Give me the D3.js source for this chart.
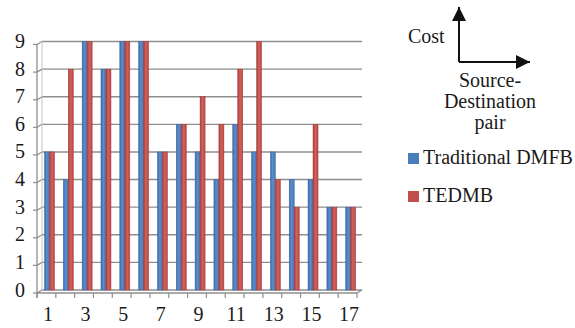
<!DOCTYPE html>
<html>
<head>
<meta charset="utf-8">
<script src="https://cdn.jsdelivr.net/npm/d3@7/dist/d3.min.js"></script>
<style>
  body { margin: 0; background: #fff; }
</style>
</head>
<body>
<svg id="chart" width="575" height="328" font-family="'Liberation Serif', 'DejaVu Serif', serif"></svg>
<script>
// Cost per source-destination pair
const categories = [1, 2, 3, 4, 5, 6, 7, 8, 9, 10, 11, 12, 13, 14, 15, 16, 17];
const traditionalDMFB = [5, 4, 9, 8, 9, 9, 5, 6, 5, 4, 6, 5, 5, 4, 4, 3, 3];
const tedmb = [5, 8, 9, 8, 9, 9, 5, 6, 7, 6, 8, 9, 4, 3, 6, 3, 3];
const seriesNames = ["Traditional DMFB", "TEDMB"];
const yTicks = [0, 1, 2, 3, 4, 5, 6, 7, 8, 9];
const xTickLabels = [1, 3, 5, 7, 9, 11, 13, 15, 17];

const colors = { "Traditional DMFB": ["#3a69a6", "#5b8dcc", "#4676b3"],
                 "TEDMB": ["#a63b38", "#d2625e", "#b94845"] };
const textColor = "#1a1a1a";
const serif = "'Liberation Serif', 'DejaVu Serif', serif";
const fontSize = 20;

const svg = d3.select("#chart");
const defs = svg.append("defs");
seriesNames.forEach((s, i) => {
  const g = defs.append("linearGradient").attr("id", "grad" + i)
    .attr("x1", "0%").attr("x2", "100%").attr("y1", "0%").attr("y2", "0%");
  g.append("stop").attr("offset", "0%").attr("stop-color", colors[s][0]);
  g.append("stop").attr("offset", "45%").attr("stop-color", colors[s][1]);
  g.append("stop").attr("offset", "100%").attr("stop-color", colors[s][2]);
});

// front plane of the plot and the depth offset to the back wall
const plotLeft = 37, plotRight = 357, plotBottom = 293, plotTop = 44.5;
const dx = 5, dy = -3;

const x = d3.scaleBand().domain(categories).range([plotLeft, plotRight]).padding(0);
const y = d3.scaleLinear().domain([0, 9]).range([plotBottom, plotTop]);
const sub = d3.scaleBand().domain(seriesNames).range([7.5, 17.5]).padding(0);

const gridColor = "#8e8e8e";

// back-wall gridlines with side-wall segments
const grid = svg.append("g");
yTicks.forEach(t => {
  grid.append("line").attr("x1", plotLeft + dx).attr("x2", plotRight + dx)
    .attr("y1", y(t) + dy).attr("y2", y(t) + dy)
    .attr("stroke", gridColor).attr("stroke-width", 1.4);
  grid.append("line").attr("x1", plotLeft).attr("x2", plotLeft + dx)
    .attr("y1", y(t)).attr("y2", y(t) + dy)
    .attr("stroke", gridColor).attr("stroke-width", 1.2);
  grid.append("line").attr("x1", plotLeft - 4).attr("x2", plotLeft)
    .attr("y1", y(t)).attr("y2", y(t))
    .attr("stroke", gridColor).attr("stroke-width", 1.2);
});
// wall edges
grid.append("line").attr("x1", plotLeft + dx).attr("x2", plotLeft + dx)
  .attr("y1", y(9) + dy).attr("y2", y(0) + dy).attr("stroke", "#c4c4c4").attr("stroke-width", 1);
grid.append("line").attr("x1", plotLeft).attr("x2", plotLeft)
  .attr("y1", y(9)).attr("y2", y(0) + 5).attr("stroke", gridColor).attr("stroke-width", 1.3);

// bars
const data = categories.map((c, i) => ({ c, values: [traditionalDMFB[i], tedmb[i]] }));
const groups = svg.append("g").selectAll("g").data(data).join("g")
  .attr("transform", d => `translate(${x(d.c)},0)`);
groups.selectAll("rect")
  .data(d => d.values.map((v, i) => ({ key: seriesNames[i], v, i })))
  .join("rect")
  .attr("x", d => sub(d.key))
  .attr("width", sub.bandwidth())
  .attr("y", d => y(d.v) + dy)
  .attr("height", d => y(0) - y(d.v))
  .attr("fill", d => `url(#grad${d.i})`)
  .attr("stroke", d => colors[d.key][0])
  .attr("stroke-width", 0.5);

// floor front edge and category ticks
const axis = svg.append("g");
axis.append("line").attr("x1", plotLeft).attr("x2", plotRight)
  .attr("y1", plotBottom).attr("y2", plotBottom).attr("stroke", gridColor).attr("stroke-width", 1.4);
axis.append("line").attr("x1", plotRight).attr("x2", plotRight + dx)
  .attr("y1", plotBottom).attr("y2", plotBottom + dy).attr("stroke", gridColor).attr("stroke-width", 1.2);
categories.concat([null]).forEach(c => {
  const xp = c === null ? plotRight : x(c);
  axis.append("line").attr("x1", xp).attr("x2", xp)
    .attr("y1", plotBottom).attr("y2", plotBottom + 5).attr("stroke", gridColor).attr("stroke-width", 1.2);
});

// tick labels
svg.append("g").selectAll("text").data(yTicks).join("text")
  .attr("x", 25).attr("y", d => y(d) + dy + 6.5)
  .attr("text-anchor", "end").attr("font-size", fontSize)
  .attr("font-family", serif).attr("fill", textColor).text(d => d);
svg.append("g").selectAll("text").data(xTickLabels).join("text")
  .attr("x", d => x(d) + x.bandwidth() / 2 + 1.5).attr("y", 321)
  .attr("text-anchor", "middle").attr("font-size", fontSize)
  .attr("font-family", serif).attr("fill", textColor).text(d => d);

// axis-direction key
const key = svg.append("g");
defs.append("marker").attr("id", "arrow").attr("viewBox", "0 0 10 10")
  .attr("refX", 10).attr("refY", 5).attr("markerWidth", 7).attr("markerHeight", 7)
  .attr("markerUnits", "strokeWidth").attr("orient", "auto")
  .append("path").attr("d", "M0,0 L10,5 L0,10 Z").attr("fill", "#111");
key.append("path").attr("d", "M459,62 L459,7").attr("stroke", "#111").attr("stroke-width", 2)
  .attr("fill", "none").attr("marker-end", "url(#arrow)");
key.append("path").attr("d", "M459,62 L530,62").attr("stroke", "#111").attr("stroke-width", 2)
  .attr("fill", "none").attr("marker-end", "url(#arrow)");
key.append("text").attr("x", 408).attr("y", 43).attr("font-size", fontSize)
  .attr("font-family", serif).attr("fill", textColor).text("Cost");
["Source-", "Destination", "pair"].forEach((t, i) => {
  key.append("text").attr("x", 490).attr("y", 87 + i * 21).attr("text-anchor", "middle")
    .attr("font-size", fontSize).attr("font-family", serif).attr("fill", textColor).text(t);
});

// legend
const legend = svg.append("g").selectAll("g").data(seriesNames).join("g")
  .attr("transform", (d, i) => `translate(408,${153 + i * 38})`);
legend.append("rect").attr("width", 11).attr("height", 11)
  .attr("fill", (d, i) => i === 0 ? "#4a7ebb" : "#c0504d");
legend.append("text").attr("x", 15).attr("y", 11).attr("font-size", fontSize)
  .attr("font-family", serif).attr("fill", textColor).text(d => d);
</script>
</body>
</html>
